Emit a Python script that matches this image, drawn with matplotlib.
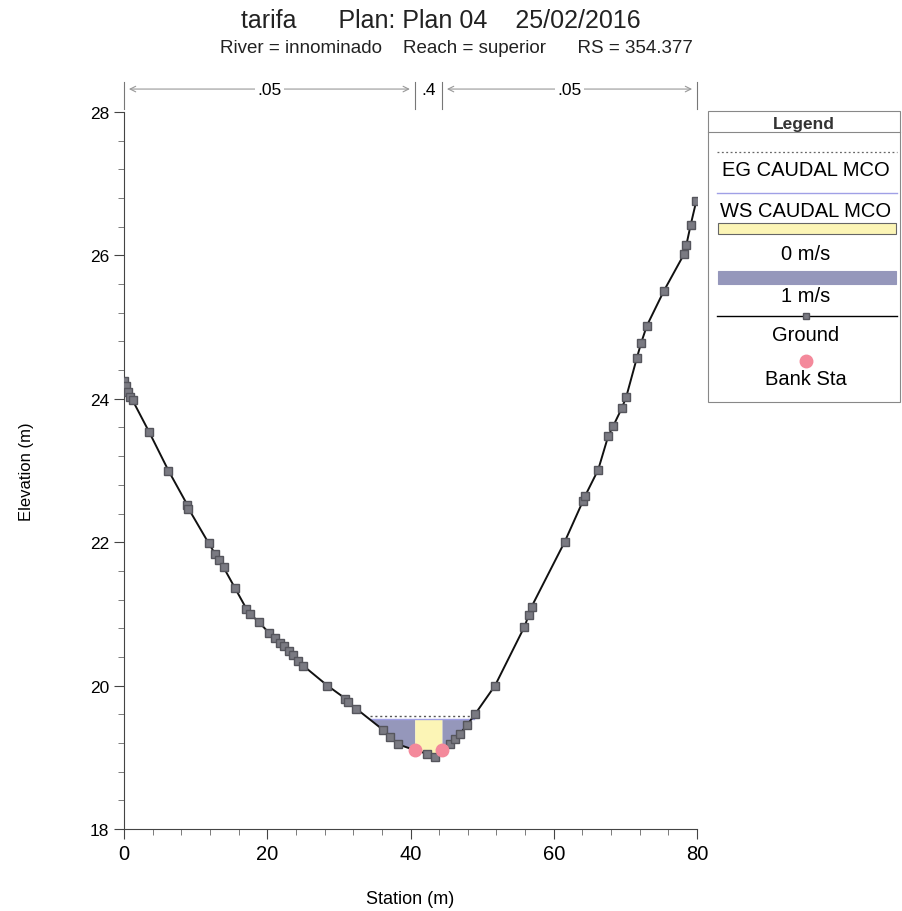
import matplotlib.pyplot as plt
from matplotlib.patches import Rectangle
import numpy as np

# Ground profile (station m, elevation m)
station = [0.0, 0.3, 0.6, 0.9, 1.2, 3.5, 6.2, 8.85, 9.0, 11.8, 12.7, 13.2, 13.9,
           15.5, 17.1, 17.6, 18.8, 20.2, 21.1, 21.8, 22.4, 23.0, 23.6, 24.3, 25.0,
           28.4, 30.9, 31.3, 32.4, 36.2, 37.2, 38.3, 40.6, 42.3, 43.4, 44.4, 45.5,
           46.2, 46.9, 47.9, 49.0, 51.8, 55.9, 56.5, 56.9, 61.5, 64.1, 64.4, 66.2,
           67.6, 68.3, 69.5, 70.1, 71.6, 72.2, 73.0, 75.4, 78.2, 78.5, 79.1, 79.9]
elevation = [24.25, 24.18, 24.1, 24.02, 23.98, 23.54, 23.0, 22.52, 22.47, 21.99,
             21.84, 21.75, 21.65, 21.36, 21.07, 21.0, 20.89, 20.74, 20.66, 20.6,
             20.55, 20.48, 20.42, 20.35, 20.28, 20.0, 19.82, 19.77, 19.68, 19.38,
             19.28, 19.18, 19.1, 19.05, 19.0, 19.1, 19.18, 19.26, 19.33, 19.45,
             19.6, 20.0, 20.82, 20.98, 21.1, 22.0, 22.58, 22.65, 23.01, 23.48,
             23.62, 23.87, 24.02, 24.57, 24.78, 25.02, 25.51, 26.02, 26.14, 26.42,
             26.76]
bank_sta = [40.6, 44.4]
bank_elev = [19.1, 19.1]
ws_elev = 19.53
eg_elev = 19.58
n_bounds = [0.0, 40.6, 44.4, 80.0]
n_values = ['.05', '.4', '.05']

arial = ['Liberation Sans', 'DejaVu Sans']
blue_fill = '#9597bb'
yellow_fill = '#fcf5b6'
pink = '#f4899b'

fig = plt.figure(figsize=(9.03, 9.12), dpi=100)
ax = fig.add_axes([0.1373, 0.0899, 0.7719 - 0.1373, 0.8761 - 0.0899])

x = np.array(station)
g = np.array(elevation)
ws = np.full_like(x, ws_elev)
wet = g < ws_elev
ax.fill_between(x, g, ws, where=wet & (x <= bank_sta[0]), interpolate=True,
                color=blue_fill, lw=0, zorder=1)
ax.fill_between(x, g, ws, where=(x >= bank_sta[0]) & (x <= bank_sta[1]),
                color=yellow_fill, lw=0, zorder=1)
ax.fill_between(x, g, ws, where=wet & (x >= bank_sta[1]), interpolate=True,
                color=blue_fill, lw=0, zorder=1)

# water surface and energy grade lines over the wetted width
wet_x = [34.4, 48.8]
ax.plot(wet_x, [ws_elev, ws_elev], color='#a0a0e6', lw=1, zorder=2)
ax.plot(wet_x, [eg_elev, eg_elev], color='#555555', lw=1, ls=(0, (1.5, 2)), zorder=2)

ax.plot(station, elevation, color='#111111', lw=1.4, marker='s', markersize=5.5,
        markerfacecolor='#7a7a82', markeredgecolor='#55555c', zorder=3)
ax.plot(bank_sta, bank_elev, 'o', color=pink, markersize=9, zorder=4)

ax.set_xlim(0, 80)
ax.set_ylim(18, 28)
ax.set_xticks([0, 20, 40, 60, 80])
ax.set_xticks(np.arange(0, 81, 4), minor=True)
ax.set_yticks([18, 20, 22, 24, 26, 28])
ax.set_yticks(np.arange(18, 28.01, 0.4), minor=True)
for s in ['top', 'right']:
    ax.spines[s].set_visible(False)
for s in ['left', 'bottom']:
    ax.spines[s].set_color('#444444')
    ax.spines[s].set_linewidth(0.8)
ax.tick_params(which='major', length=7, width=0.8, color='#444444')
ax.tick_params(which='minor', length=4, width=0.6, color='#666666')
for lab in ax.get_xticklabels():
    lab.set_family(arial)
    lab.set_fontsize(14.5)
for lab in ax.get_yticklabels():
    lab.set_family(arial)
    lab.set_fontsize(12.5)
ax.set_xlabel('Station (m)', family=arial, fontsize=13, labelpad=20)
ax.set_ylabel('Elevation (m)', family=arial, fontsize=12, labelpad=40)

# Manning's n regions above the plot
for b in n_bounds:
    ax.plot([b, b], [28.04, 28.42], color='#777777', lw=0.8, clip_on=False)
for i, nv in enumerate(n_values):
    x0, x1 = n_bounds[i], n_bounds[i + 1]
    xm = (x0 + x1) / 2
    if x1 - x0 > 10:
        ax.annotate('', xy=(x0 + 0.3, 28.32), xytext=(xm, 28.32),
                    arrowprops=dict(arrowstyle='->', color='#999999', lw=0.8),
                    annotation_clip=False)
        ax.annotate('', xy=(x1 - 0.3, 28.32), xytext=(xm, 28.32),
                    arrowprops=dict(arrowstyle='->', color='#999999', lw=0.8),
                    annotation_clip=False)
    ax.text(xm, 28.32, nv, ha='center', va='center', family=arial, fontsize=12.5,
            bbox=dict(facecolor='white', edgecolor='none', pad=1.5), clip_on=False)

fig.text(0.488, 0.977, 'tarifa      Plan: Plan 04    25/02/2016', ha='center',
         va='center', family=arial, fontsize=18, color='#222222')
fig.text(0.506, 0.947, 'River = innominado    Reach = superior      RS = 354.377',
         ha='center', va='center', family=arial, fontsize=13.5, color='#222222')

# legend panel
lg = fig.add_axes([0, 0, 1, 1], facecolor='none')
lg.set_xlim(0, 903)
lg.set_ylim(912, 0)
lg.axis('off')
lg.add_patch(Rectangle((708, 112), 192, 291, fill=False, edgecolor='#888888', lw=0.8))
lg.text(804, 124, 'Legend', ha='center', va='center', family=arial, fontsize=12.5,
        weight='bold', color='#333333')
lg.plot([708, 900], [133, 133], color='#888888', lw=0.8)
lg.plot([717, 897], [153, 153], color='#666666', lw=0.9, ls=(0, (1.5, 2)))
lg.text(806, 171, 'EG CAUDAL MCO', ha='center', va='center', family=arial, fontsize=14.5)
lg.plot([717, 897], [194, 194], color='#a0a0e6', lw=1)
lg.text(806, 212, 'WS CAUDAL MCO', ha='center', va='center', family=arial, fontsize=14.5)
lg.add_patch(Rectangle((718, 224), 178, 11, facecolor=yellow_fill, edgecolor='#666666', lw=0.8))
lg.text(806, 255, '0 m/s', ha='center', va='center', family=arial, fontsize=14.5)
lg.add_patch(Rectangle((718, 272), 178, 13, facecolor=blue_fill, edgecolor=blue_fill, lw=0.8))
lg.text(806, 297, '1 m/s', ha='center', va='center', family=arial, fontsize=14.5)
lg.plot([717, 897], [317, 317], color='black', lw=1)
lg.plot([806], [317], marker='s', markersize=5, markerfacecolor='#7a7a82',
        markeredgecolor='#55555c')
lg.text(806, 336, 'Ground', ha='center', va='center', family=arial, fontsize=14.5)
lg.plot([806], [362], 'o', color=pink, markersize=9)
lg.text(806, 380, 'Bank Sta', ha='center', va='center', family=arial, fontsize=14.5)

fig.savefig('out.png', dpi=100)
